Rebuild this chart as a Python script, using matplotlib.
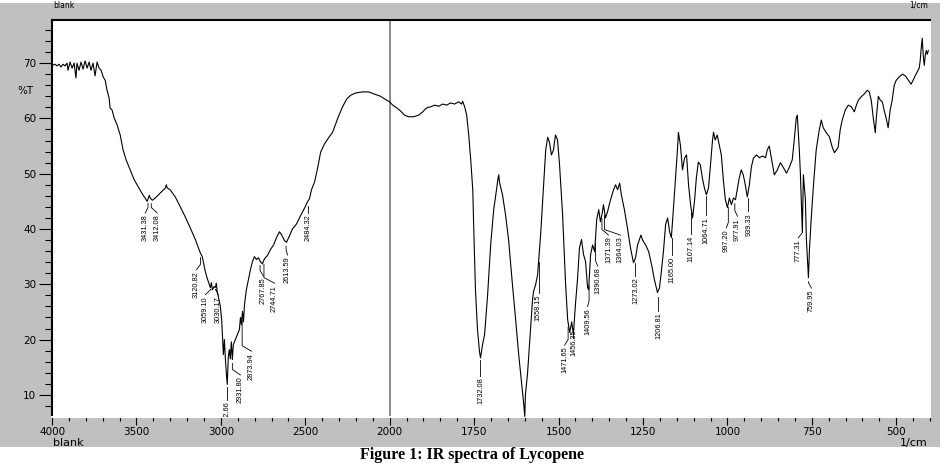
import matplotlib.pyplot as plt
import numpy as np
from matplotlib.patches import Rectangle
from matplotlib.ticker import FixedLocator

# IR spectrum (wavenumber in 1/cm, transmittance in %T)
wavenumber = [
    4000, 3982, 3970, 3958, 3947, 3935, 3923, 3911, 3905, 3893, 3881, 3869, 3858, 3852,
    3840, 3828, 3816, 3804, 3792, 3780, 3769, 3757, 3745, 3733, 3721, 3709, 3697, 3685,
    3674, 3662, 3656, 3644, 3632, 3614, 3596, 3579, 3561, 3537, 3513, 3496, 3466, 3436,
    3424, 3418, 3406, 3389, 3359, 3329, 3323, 3317, 3300, 3270, 3240, 3211, 3181, 3151,
    3122, 3110, 3104, 3092, 3080, 3062, 3056, 3050, 3040, 3033, 3027, 3021, 3015, 3003,
    2995, 2991, 2985, 2979, 2973, 2967, 2962, 2956, 2950, 2944, 2938, 2932, 2926, 2914,
    2902, 2890, 2884, 2878, 2872, 2866, 2860, 2849, 2837, 2825, 2813, 2801, 2789, 2777,
    2766, 2754, 2742, 2724, 2706, 2688, 2671, 2653, 2641, 2623, 2611, 2593, 2576, 2552,
    2528, 2504, 2487, 2475, 2463, 2445, 2427, 2409, 2386, 2362, 2338, 2320, 2303, 2279,
    2255, 2231, 2202, 2160, 2125, 2089, 2054, 2018, 2000,
    1991, 1979, 1967, 1956, 1944, 1929, 1914, 1902, 1891, 1879, 1867, 1855, 1843, 1831,
    1820, 1808, 1796, 1787, 1784, 1778, 1772, 1766, 1760, 1754, 1751, 1746, 1740, 1734,
    1731, 1725, 1719, 1710, 1701, 1692, 1683, 1680, 1677, 1675, 1666, 1657, 1648, 1636,
    1627, 1618, 1609, 1603, 1600, 1598, 1592, 1583, 1577, 1574, 1568, 1562, 1553, 1544,
    1538, 1532, 1527, 1521, 1515, 1509, 1503, 1497, 1488, 1479, 1473, 1467, 1461, 1456,
    1450, 1444, 1438, 1432, 1426, 1420, 1414, 1411, 1405, 1399, 1393, 1387, 1381, 1376,
    1370, 1367, 1361, 1355, 1346, 1337, 1331, 1325, 1319, 1314, 1305, 1296, 1287, 1278,
    1272, 1266, 1256, 1251, 1242, 1233, 1224, 1216, 1207, 1201, 1195, 1189, 1183, 1177,
    1171, 1166, 1160, 1154, 1148, 1145, 1139, 1133, 1127, 1121, 1115, 1109, 1103, 1097,
    1092, 1086, 1080, 1074, 1068, 1062, 1056, 1050, 1044, 1041, 1036, 1030, 1024, 1018,
    1012, 1006, 1000, 994, 988, 982, 976, 970, 965, 959, 953, 947, 941, 935, 929, 923,
    914, 905, 896, 887, 882, 876, 870, 861, 852, 843, 834, 825, 817, 808, 802, 796, 793,
    787, 784, 778, 775, 769, 766, 760, 757, 751, 745, 737, 728, 722, 716, 707, 698, 689,
    683, 677, 672, 666, 660, 651, 642, 633, 624, 618, 612, 604, 595, 586, 580, 574, 568,
    562, 559, 553, 547, 541, 536, 530, 524, 518, 512, 506, 500, 491, 482, 473, 464, 456,
    450, 444, 438, 432, 429, 426, 423, 420, 417, 414, 411, 408, 405,
]
transmittance = [
    69.6, 69.8, 69.5, 69.8, 69.3, 69.8, 69.5, 70.0, 68.7, 70.2, 69.1, 70.0, 67.3, 70.0,
    68.7, 70.2, 68.9, 70.4, 69.1, 70.2, 68.7, 70.0, 67.7, 70.2, 69.1, 68.7, 67.5, 66.9,
    65.1, 63.7, 61.9, 61.5, 60.1, 58.8, 57.0, 54.3, 52.5, 50.7, 48.9, 48.0, 46.4, 45.0,
    46.1, 45.6, 45.2, 45.6, 46.5, 47.4, 48.0, 47.4, 47.1, 45.8, 44.0, 42.2, 40.2, 38.1,
    35.7, 35.0, 34.1, 32.3, 31.0, 29.4, 30.3, 29.0, 29.6, 29.4, 30.2, 28.5, 27.8, 26.0,
    23.5, 20.9, 17.3, 20.0, 16.4, 13.7, 11.9, 16.8, 18.2, 16.5, 19.6, 16.4, 19.1, 20.0,
    20.9, 21.8, 24.0, 22.7, 25.1, 23.2, 26.3, 29.0, 30.8, 32.6, 34.1, 35.0, 34.5, 34.8,
    34.1, 33.7, 34.6, 35.2, 36.3, 37.1, 38.4, 39.5, 39.0, 37.9, 37.6, 38.8, 40.0, 40.9,
    42.4, 43.8, 44.9, 45.5, 47.1, 48.5, 51.0, 53.9, 55.4, 56.5, 57.5, 59.0, 60.4, 62.1,
    63.5, 64.2, 64.6, 64.8, 64.8, 64.4, 64.0, 63.3, 63.0,
    62.4, 61.9, 61.3, 60.6, 60.3, 60.3, 60.6, 61.2, 61.9, 62.1, 62.4, 62.2, 62.6, 62.4,
    62.8, 62.6, 63.0, 62.6, 63.1, 62.1, 60.6, 57.0, 52.5, 47.1, 39.9, 29.0, 21.8, 17.8,
    16.7, 19.1, 20.9, 28.1, 37.1, 43.5, 47.4, 48.9, 49.8, 48.5, 46.2, 42.6, 38.1, 29.6,
    23.6, 17.3, 11.9, 8.3, 6.1, 10.1, 13.7, 21.8, 27.2, 28.7, 29.9, 31.7, 39.0, 48.0,
    54.3, 56.6, 55.7, 53.4, 54.3, 57.0, 56.1, 51.6, 42.6, 29.9, 23.6, 21.3, 23.2, 20.9,
    26.3, 30.8, 36.6, 38.1, 35.4, 34.1, 29.4, 29.0, 35.4, 37.1, 35.9, 41.7, 43.5, 41.3,
    43.1, 44.4, 42.0, 43.1, 45.3, 47.1, 48.0, 47.1, 48.3, 46.2, 43.5, 40.2, 36.6, 33.9,
    34.8, 37.1, 38.9, 38.0, 37.1, 35.9, 33.4, 30.8, 28.5, 29.4, 32.6, 36.2, 40.8, 42.0,
    39.5, 38.4, 43.5, 48.9, 54.2, 57.5, 55.1, 50.7, 52.8, 53.4, 48.0, 44.4, 42.0, 45.3,
    49.2, 52.1, 51.6, 49.2, 47.4, 46.2, 47.4, 51.6, 56.1, 57.5, 56.1, 57.0, 55.2, 53.4,
    48.9, 45.3, 43.9, 45.6, 44.4, 45.6, 45.3, 47.4, 49.2, 50.7, 49.8, 48.0, 45.8, 48.0,
    51.2, 52.8, 53.4, 52.9, 53.2, 52.9, 54.3, 55.0, 52.9, 49.8, 50.7, 52.0, 51.1, 50.1,
    51.1, 52.5, 56.1, 60.1, 60.6, 54.3, 50.3, 39.5, 49.8, 45.3, 38.1, 31.2, 36.3, 42.6,
    48.0, 54.3, 57.9, 59.7, 58.3, 57.4, 56.7, 54.7, 53.8, 54.3, 54.8, 57.9, 59.7, 61.5,
    62.4, 62.1, 61.2, 62.4, 63.3, 63.9, 64.4, 65.1, 64.8, 63.3, 60.1, 57.4, 60.1, 64.0,
    63.3, 63.0, 61.5, 60.1, 58.3, 61.5, 63.3, 66.0, 66.9, 67.5, 68.0, 67.7, 66.9, 66.2,
    66.9, 67.7, 68.4, 69.1, 70.5, 72.7, 74.5, 71.4, 69.6, 71.4, 72.3, 71.6, 72.3,
]

# peak annotations: marked wavenumber, where the rotated text goes (wavenumber, %T of its top)
peak_wn = [3431.38, 3412.08, 3120.82, 3059.10, 3030.17, 2962.66, 2931.80, 2873.94,
           2767.85, 2744.71, 2613.59, 2484.32, 1732.08, 1558.15, 1471.65, 1456.35,
           1409.56, 1390.68, 1371.39, 1364.03, 1273.02, 1206.81, 1165.00, 1107.14,
           1064.71, 997.20, 977.91, 939.33, 777.31, 759.95]
label_wn = [3448, 3377, 3145, 3092, 3015, 2962, 2884, 2819, 2748, 2682, 2605, 2481,
            1731, 1562, 1482, 1453, 1414, 1384, 1352, 1317, 1272, 1204, 1163, 1109,
            1065, 1003, 970, 936, 790, 751]
label_top = [42.6, 42.6, 32.3, 27.8, 27.8, 8.8, 13.3, 17.6, 31.2, 29.9, 35.0, 42.6,
             13.1, 28.1, 18.7, 21.8, 25.7, 33.0, 38.6, 38.6, 31.2, 24.9, 35.0, 38.8,
             42.2, 39.9, 42.0, 42.9, 38.1, 29.0]

major_ticks = [4000, 3500, 3000, 2500, 2000, 1750, 1500, 1250, 1000, 750, 500]
minor_ticks = list(range(4000, 2000, -100)) + list(range(2000, 399, -50))


# the x axis is twice as stretched below 2000 1/cm
def forward(w):
    w = np.asarray(w, dtype=float)
    return np.where(w >= 2000, w, 2 * w - 2000)


def inverse(p):
    p = np.asarray(p, dtype=float)
    return np.where(p >= 2000, p, (p + 2000) / 2)


W, H = 943, 463
fig = plt.figure(figsize=(W / 100, H / 100), dpi=100)
fig.patch.set_facecolor('white')
fig.add_artist(Rectangle((0, 1 - 447 / H), 940 / W, 444 / H, transform=fig.transFigure,
                         facecolor='#c0c0c0', edgecolor='none', zorder=0))

ax = fig.add_axes([52 / W, 1 - 417 / H, 878 / W, 397 / H])
ax.set_facecolor('white')
ax.set_xscale('function', functions=(forward, inverse))
ax.set_xlim(4000, 400)
ax.set_ylim(6, 77.8)

ax.plot(wavenumber, transmittance, color='black', lw=0.8, zorder=3)
ax.axvline(2000, color='#808080', lw=1.3, zorder=2)

wn_sorted = np.array(wavenumber)[::-1]
t_sorted = np.array(transmittance)[::-1]
for pw, lw_, top in zip(peak_wn, label_wn, label_top):
    pt = np.interp(pw, wn_sorted, t_sorted)
    if abs(lw_ - pw) < 4:
        xs, ys = [pw, pw], [pt - 0.8, top + 0.3]
    else:
        xs, ys = [pw, pw, lw_], [pt - 0.8, top + 1.3, top + 0.3]
    ax.plot(xs, ys, color='black', lw=0.6, zorder=3)
    ax.text(lw_, top, f'{pw:.2f}', rotation=90, ha='center', va='top',
            fontsize=5.3, family='Liberation Sans', clip_on=True, zorder=4)

ax.set_xticks(major_ticks)
ax.set_xticklabels([str(t) for t in major_ticks])
ax.xaxis.set_minor_locator(FixedLocator(minor_ticks))
ax.set_yticks(range(10, 71, 10))
ax.yaxis.set_minor_locator(FixedLocator(range(8, 77, 2)))

ax.tick_params(axis='x', which='major', direction='out', length=5.5, width=0.8,
               labelsize=7.5, pad=1.5)
ax.tick_params(axis='x', which='minor', direction='out', length=3, width=0.8)
ax.tick_params(axis='y', which='major', direction='out', length=9.4, width=0.8,
               labelsize=7.5, pad=2)
ax.tick_params(axis='y', which='minor', direction='out', length=5, width=0.8)

for side in ['top', 'left']:
    ax.spines[side].set_color('black')
    ax.spines[side].set_linewidth(1.5)
for side in ['bottom', 'right']:
    ax.spines[side].set_color('white')
    ax.spines[side].set_linewidth(1.5)

fig.text(25 / W, 1 - 91 / H, '%T', ha='center', va='center', fontsize=7.5)
# header labels of the instrument window, kept small so they stay inside the page
fig.text(53 / W, 1 - 8 / H, 'blank', ha='left', va='baseline', fontsize=5.5)
fig.text(928 / W, 1 - 8 / H, '1/cm', ha='right', va='baseline', fontsize=5.5)
fig.text(53 / W, 1 - 446 / H, 'blank', ha='left', va='baseline', fontsize=8)
fig.text(928 / W, 1 - 446 / H, '1/cm', ha='right', va='baseline', fontsize=8)
fig.text(472 / W, 1 - 459 / H, 'Figure 1: IR spectra of Lycopene', ha='center',
         va='baseline', fontsize=11.5, family='Liberation Serif', weight='bold')

fig.savefig('out.png', dpi=100)
